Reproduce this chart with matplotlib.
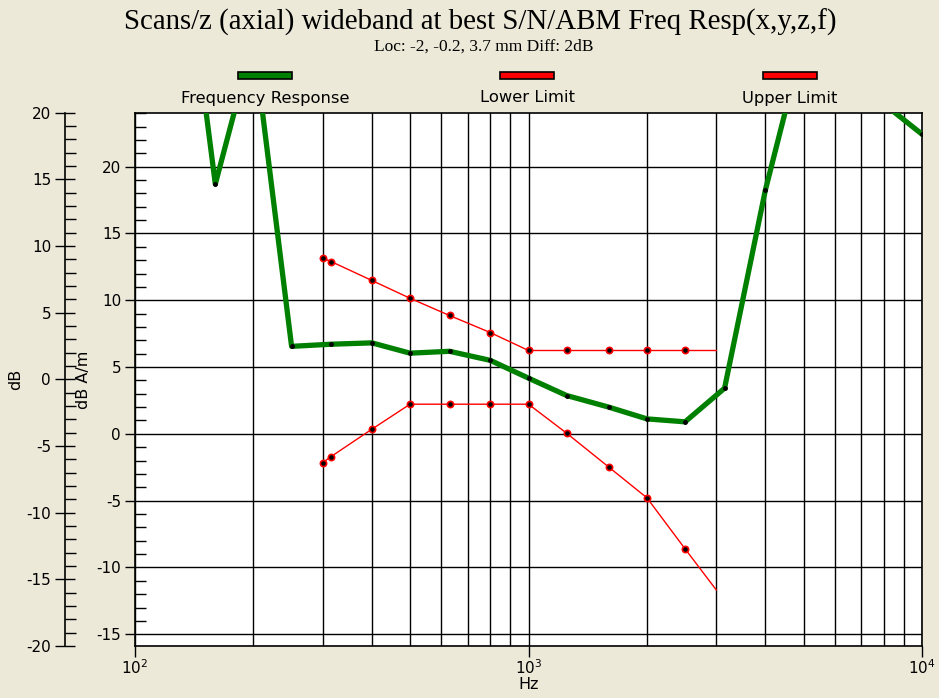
import matplotlib
matplotlib.use("Agg")
import matplotlib.pyplot as plt
from matplotlib.patches import Rectangle
from matplotlib.ticker import MultipleLocator, LogLocator, NullFormatter

plt.rcParams["axes.unicode_minus"] = False

resp_freq = [100, 125, 160, 200, 250, 315, 400, 500, 630, 800, 1000, 1250,
             1600, 2000, 2500, 3150, 4000, 5000, 6300, 8000, 10000]
resp_db = [38.0, 43.3, 18.7, 29.5, 6.55, 6.71, 6.81, 6.04, 6.18, 5.50, 4.17,
           2.87, 2.00, 1.12, 0.90, 3.42, 18.26, 29.5, 30.5, 24.7, 22.43]

limit_freq = [300, 315, 400, 500, 630, 800, 1000, 1250, 1600, 2000, 2500, 3000]
upper_db = [13.15, 12.90, 11.48, 10.15, 8.86, 7.58, 6.24, 6.24, 6.24, 6.24, 6.24, 6.24]
lower_db = [-2.15, -1.70, 0.35, 2.22, 2.22, 2.22, 2.22, 0.05, -2.49, -4.79, -8.61, -11.68]

legend_names = ["Frequency Response", "Lower Limit", "Upper Limit"]
legend_colors = ["#008000", "#ff0000", "#ff0000"]

BG = "#ece9d8"
W, H = 939, 698

fig = plt.figure(figsize=(W / 100, H / 100), dpi=100, facecolor=BG)
ax = fig.add_axes([135 / W, 1 - 646 / H, 787 / W, (646 - 112.7) / H])
ax.set_facecolor("white")

ax.set_xscale("log")
ax.set_xlim(100, 10000)
ax.set_ylim(-15.88, 24.04)

# grid: every decade step in x, every 5 dB in y
ax.xaxis.set_major_locator(LogLocator(base=10))
ax.xaxis.set_minor_locator(LogLocator(base=10, subs=range(2, 10)))
ax.xaxis.set_minor_formatter(NullFormatter())
ax.yaxis.set_major_locator(MultipleLocator(5))
ax.yaxis.set_minor_locator(MultipleLocator(1))
ax.grid(True, which="major", color="black", lw=1.0)
ax.grid(True, which="minor", axis="x", color="black", lw=1.0)

ax.tick_params(axis="x", which="major", direction="out", length=8, width=1,
               labelsize=11, pad=1)
ax.tick_params(axis="x", which="minor", length=0)
ax.tick_params(axis="y", which="major", direction="out", length=7, width=1,
               labelsize=11, pad=3)
ax.tick_params(axis="y", which="minor", direction="in", length=8, width=1)
for s in ax.spines.values():
    s.set_color("black")
    s.set_linewidth(1.2)

n_lim = len(limit_freq)
ax.plot(limit_freq, upper_db, color="#ff0000", lw=1.0, marker="o", ms=4.5,
        mfc="black", mec="#ff0000", mew=1.2, markevery=list(range(n_lim - 1)),
        zorder=4)
ax.plot(limit_freq, lower_db, color="#ff0000", lw=1.0, marker="o", ms=4.5,
        mfc="black", mec="#ff0000", mew=1.2, markevery=list(range(n_lim - 1)),
        zorder=4)
ax.plot(resp_freq, resp_db, color="#008000", lw=3.8, solid_joinstyle="round",
        zorder=5)
ax.plot(resp_freq, resp_db, ls="none", marker="o", ms=2.5, color="black",
        zorder=6)

ax.set_xlabel("Hz", fontsize=11.5, labelpad=0)
ax.set_ylabel("dB A/m", fontsize=11.5)
ax.yaxis.set_label_coords((91 - 135) / 787, 0.5)

# outer dB scale
ax2 = ax.twinx()
ax2.set_ylim(-20, 20)
ax2.yaxis.tick_left()
ax2.yaxis.set_label_position("left")
for k in ("right", "top", "bottom"):
    ax2.spines[k].set_visible(False)
ax2.spines["left"].set_visible(True)
ax2.spines["left"].set_position(("axes", (65 - 135) / 787))
ax2.spines["left"].set_color("black")
ax2.spines["left"].set_linewidth(1.2)
ax2.yaxis.set_major_locator(MultipleLocator(5))
ax2.yaxis.set_minor_locator(MultipleLocator(1))
ax2.tick_params(axis="y", which="major", direction="inout", length=14, width=1,
                labelsize=11, pad=3)
ax2.tick_params(axis="y", which="minor", direction="in", length=8, width=1)
ax2.set_ylabel("dB", fontsize=11.5)
ax2.yaxis.set_label_coords((23 - 135) / 787, 0.5)

# titles
fig.text(480 / W, 1 - 22 / H, "Scans/z (axial) wideband at best S/N/ABM Freq Resp(x,y,z,f)",
         ha="center", va="center", family="Liberation Serif", fontsize=20.8)
fig.text(484 / W, 1 - 47 / H, "Loc: -2, -0.2, 3.7 mm Diff: 2dB",
         ha="center", va="center", family="Liberation Serif", fontsize=12.5)

# legend: swatch above each name
legend_x = [265, 527, 790]
for cx, name, col in zip(legend_x, legend_names, legend_colors):
    fig.add_artist(Rectangle(((cx - 27) / W, 1 - 79 / H), 54 / W, 7 / H,
                             transform=fig.transFigure, facecolor=col,
                             edgecolor="black", lw=1.2))
    fig.text(cx / W, 1 - 98 / H, name, ha="center", va="center", fontsize=11.8)

fig.savefig("out.png", dpi=100, facecolor=BG)
